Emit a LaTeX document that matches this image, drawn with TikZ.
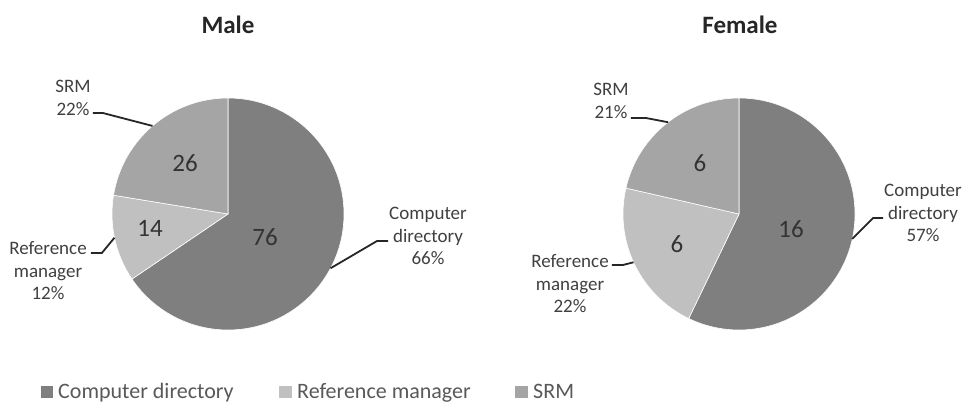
\documentclass[tikz,border=0pt]{standalone}
\usepackage{fontspec}
\setmainfont{Carlito}
\usetikzlibrary{calc}
\definecolor{cdgray}{HTML}{7F7F7F}
\definecolor{rmgray}{HTML}{C0C0C0}
\definecolor{srmgray}{HTML}{A5A5A5}
\definecolor{labgray}{HTML}{404040}
\definecolor{leggray}{HTML}{595959}
\def\pieslice[#1](#2)(#3:#4:#5){\draw[#1] (#2) -- ++(#3:#5) arc (#3:#4:#5) -- cycle}
\tikzset{
	slice/.style={draw=white, line width=0.6pt},
	charttitle/.style={font=\fontsize{25}{30}\selectfont\bfseries, text=black!85, anchor=base},
	value/.style={font=\fontsize{25}{30}\selectfont, text=black!80},
	pielabel/.style={font=\fontsize{19}{22.5}\selectfont, text=labgray, align=center, inner sep=2pt},
	leader/.style={line width=1.8pt, black!85},
	legtext/.style={font=\fontsize{22}{26}\selectfont, text=leggray, anchor=base west, inner sep=0pt},
}

\begin{document}
\begin{tikzpicture}[x=1pt, y=1pt]
		%%%%% START %%%%%
		
		\useasboundingbox[fill=white] (0,0) rectangle (965,404);
		
		\coordinate (mc) at (228,190);
		\coordinate (fc) at (739,190);
		
		% male pie
		\pieslice[slice, fill=cdgray](mc)(90:-145.9:116);
		\pieslice[slice, fill=rmgray](mc)(-145.9:-189.3:116);
		\pieslice[slice, fill=srmgray](mc)(-189.3:-270:116);
		
		% female pie
		\pieslice[slice, fill=cdgray](fc)(90:-115.7:116);
		\pieslice[slice, fill=rmgray](fc)(-115.7:-192.9:116);
		\pieslice[slice, fill=srmgray](fc)(-192.9:-270:116);
		
		\node[charttitle] (mtitle) at (228,370) {Male};
		\node[charttitle] (ftitle) at (740,370) {Female};
		
		\node[value] (m76) at (265,167) {76};
		\node[value] (m14) at (150,176) {14};
		\node[value] (m26) at (185,241) {26};
		\node[value] (f16) at (791,175) {16};
		\node[value] (f6a) at (677,160) {6};
		\node[value] (f6b) at (700,241) {6};
		
		\node[pielabel] (mSRMlab) at (73,306) {SRM\\22\%};
		\node[pielabel] (mRMlab) at (48,133) {Reference\\manager\\12\%};
		\node[pielabel] (mCDlab) at (428,168) {Computer\\directory\\66\%};
		\node[pielabel] (fSRMlab) at (611,303) {SRM\\21\%};
		\node[pielabel] (fRMlab) at (570,120) {Reference\\manager\\22\%};
		\node[pielabel] (fCDlab) at (923,191) {Computer\\directory\\57\%};
		
		\coordinate (mSRMedge) at ($(mc)+(130.6:116)$);
		\coordinate (mRMedge) at ($(mc)+(191.8:116)$);
		\coordinate (mCDedge) at ($(mc)+(-27.9:116)$);
		\coordinate (fSRMedge) at ($(fc)+(127.7:116)$);
		\coordinate (fRMedge) at ($(fc)+(204.6:116)$);
		\coordinate (fCDedge) at ($(fc)+(-12.4:116)$);
		
		\draw[leader] (mSRMlab.east) ++(0,-15) -- ++(10,0) -- (mSRMedge);
		\draw[leader] (mRMlab.east) ++(2,18) -- ++(11,0) -- (mRMedge);
		\draw[leader] (mCDlab.west) ++(1,-5) -- ++(-11,0) -- (mCDedge);
		\draw[leader] (fSRMlab.east) ++(0,-17) -- ++(15,0) -- (fSRMedge);
		\draw[leader] (fRMlab.east) ++(1,19) -- ++(11,0) -- (fRMedge);
		\draw[leader] (fCDlab.west) ++(1,-5) -- ++(-10,0) -- (fCDedge);
		
		% legend
		\fill[cdgray] (41,6) rectangle (53,18);
		\node[legtext] (legcd) at (58,6) {Computer directory};
		\fill[rmgray] (279,6) rectangle (292,18);
		\node[legtext] (legrm) at (297,6) {Reference manager};
		\fill[srmgray] (515,6) rectangle (528,18);
		\node[legtext] (legsrm) at (533,6) {SRM};
		
		%%%%% END %%%%%
	\end{tikzpicture}
\end{document}
